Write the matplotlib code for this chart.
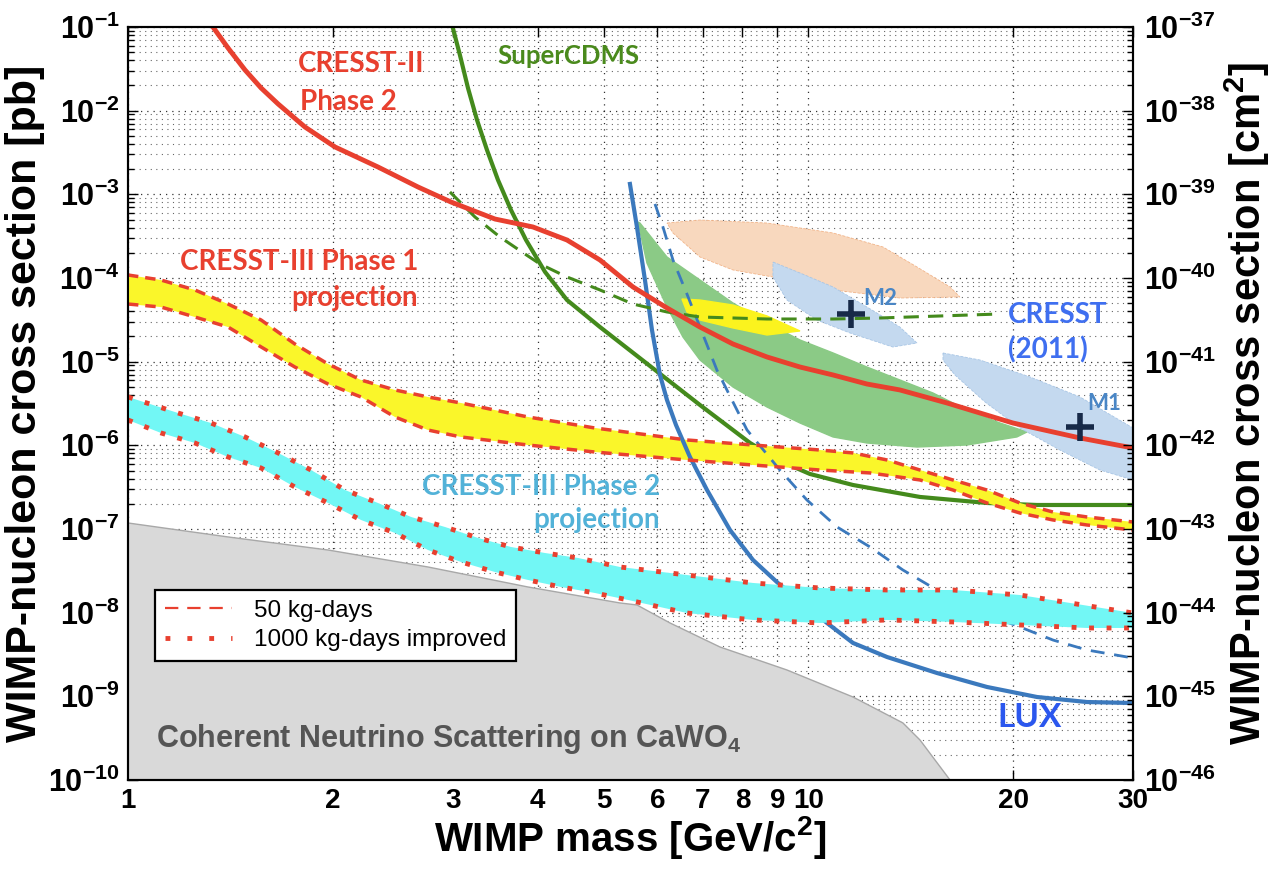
import numpy as np
import matplotlib
matplotlib.use("Agg")
import matplotlib.pyplot as plt
from matplotlib.lines import Line2D
from matplotlib.ticker import FixedLocator, LogLocator, FuncFormatter, NullLocator, NullFormatter

plt.rcParams['font.family'] = ['Liberation Sans', 'DejaVu Sans']
plt.rcParams['mathtext.fontset'] = 'custom'
plt.rcParams['mathtext.rm'] = 'Liberation Sans'
plt.rcParams['mathtext.bf'] = 'Liberation Sans:bold'
plt.rcParams['mathtext.it'] = 'Liberation Sans:italic'
plt.rcParams['mathtext.sf'] = 'Liberation Sans'

# ---------------- data (mass in GeV/c^2, log10 of cross section in pb) -------------
cresst2_m = [1.333, 1.403, 1.486, 1.569, 1.662, 1.736, 1.820, 2.015, 2.330, 2.668, 2.984,
             3.462, 3.937, 4.418, 4.940, 5.523, 6.197, 6.929, 7.748, 8.693, 9.720, 10.87,
             12.19, 13.63, 15.99, 19.98, 25.07, 30.0]
cresst2_ls = [-1.0, -1.251, -1.514, -1.729, -1.920, -2.052, -2.195, -2.434, -2.673, -2.912,
              -3.092, -3.295, -3.390, -3.546, -3.785, -4.107, -4.358, -4.586, -4.789, -4.944,
              -5.064, -5.159, -5.267, -5.338, -5.494, -5.733, -5.912, -6.032]

scdms_m = [3.00, 3.075, 3.160, 3.258, 3.370, 3.498, 3.655, 3.846, 4.102, 4.418, 4.940, 5.851,
           6.929, 8.21, 9.085, 10.05, 11.63, 14.59, 18.30, 21.68, 30.0]
scdms_ls = [-1.0, -1.335, -1.729, -2.111, -2.470, -2.829, -3.187, -3.546, -3.928, -4.263,
            -4.586, -5.052, -5.518, -5.972, -6.187, -6.342, -6.474, -6.617, -6.689, -6.713, -6.713]

scdms_dash_m = [2.973, 3.236, 3.521, 3.832, 4.033, 4.418, 4.940, 5.523, 6.197, 6.929, 8.693,
                10.87, 12.74, 19.12]
scdms_dash_ls = [-2.972, -3.271, -3.510, -3.713, -3.833, -3.988, -4.143, -4.311, -4.406,
                 -4.466, -4.490, -4.490, -4.478, -4.430]

lux_m = [5.467, 5.598, 5.752, 5.890, 6.052, 6.197, 6.389, 6.698, 7.096, 7.67, 8.29, 9.02,
         10.65, 11.63, 13.05, 15.45, 18.30, 21.68, 25.67, 30.0]
lux_ls = [-2.876, -3.390, -4.024, -4.621, -5.159, -5.458, -5.757, -6.139, -6.534, -7.012,
          -7.370, -7.645, -8.123, -8.362, -8.530, -8.721, -8.888, -9.008, -9.068, -9.080]

lux_dash_m = [5.950, 6.113, 6.324, 6.630, 6.929, 7.337, 8.124, 9.08, 9.95, 11.02, 12.32,
              13.77, 15.45, 17.87, 20.46, 22.88, 25.67, 30.0]
lux_dash_ls = [-3.115, -3.390, -3.785, -4.191, -4.586, -5.099, -5.816, -6.295, -6.653, -6.976,
               -7.215, -7.490, -7.729, -7.992, -8.171, -8.327, -8.446, -8.542]

c3p1_up_m = [1.0, 1.118, 1.254, 1.403, 1.569, 1.759, 1.968, 2.200, 2.468, 2.760, 3.086, 3.871,
             4.858, 6.630, 8.29, 10.40, 11.63, 13.05, 14.59, 16.31, 18.30, 20.46, 22.88, 25.67, 30.0]
c3p1_up_ls = [-3.964, -4.024, -4.143, -4.311, -4.502, -4.789, -5.028, -5.219, -5.338, -5.422,
              -5.494, -5.661, -5.793, -5.936, -5.996, -6.056, -6.091, -6.175, -6.295, -6.414,
              -6.534, -6.689, -6.797, -6.856, -6.916]
c3p1_lo_m = [1.0, 1.118, 1.254, 1.403, 1.569, 1.759, 1.968, 2.200, 2.468, 2.760, 3.086, 3.871,
             4.858, 6.630, 8.29, 10.40, 12.32, 14.59, 16.31, 18.30, 20.46, 22.88, 25.67, 30.0]
c3p1_lo_ls = [-4.311, -4.347, -4.466, -4.586, -4.824, -5.064, -5.267, -5.422, -5.661, -5.817,
              -5.900, -5.996, -6.080, -6.175, -6.235, -6.295, -6.330, -6.414, -6.534, -6.689,
              -6.809, -6.892, -6.952, -7.012]

c3p2_up_m = [1.0, 1.184, 1.324, 1.486, 1.662, 1.858, 2.084, 2.330, 2.606, 2.924, 3.269, 3.655,
             4.102, 4.585, 5.285, 6.630, 8.29, 10.40, 13.05, 16.31, 20.46, 24.24, 30.0]
c3p2_up_ls = [-5.422, -5.613, -5.733, -5.900, -6.091, -6.295, -6.534, -6.689, -6.856, -6.976,
              -7.107, -7.215, -7.287, -7.346, -7.454, -7.550, -7.645, -7.705, -7.729, -7.729,
              -7.789, -7.884, -8.004]
c3p2_lo_m = [1.0, 1.118, 1.254, 1.403, 1.569, 1.759, 1.968, 2.200, 2.468, 2.760, 3.086, 3.462,
             3.871, 4.329, 4.858, 5.431, 6.630, 8.29, 10.40, 13.05, 16.31, 20.46, 25.67, 30.0]
c3p2_lo_ls = [-5.697, -5.852, -5.972, -6.139, -6.271, -6.498, -6.689, -6.892, -7.047, -7.251,
              -7.394, -7.514, -7.609, -7.693, -7.765, -7.848, -8.004, -8.087, -8.123, -8.087,
              -8.111, -8.147, -8.183, -8.183]

nu_m = [1.0, 1.403, 1.968, 2.760, 3.871, 5.285, 5.598, 6.260, 7.413, 9.30, 11.63, 13.77,
        14.59, 16.15]
nu_ls = [-6.928, -7.095, -7.251, -7.454, -7.693, -7.884, -7.908, -8.123, -8.410, -8.685,
         -9.008, -9.318, -9.522, -10.0]

green_m = [5.617, 5.791, 6.197, 6.541, 6.929, 7.748, 8.693, 9.720, 10.87, 12.19, 14.44, 17.11,
           20.25, 20.96, 19.12, 17.11, 15.24, 13.63, 12.19, 10.87, 9.72, 8.693, 7.748, 6.929,
           6.197, 5.655]
green_ls = [-3.331, -3.821, -4.346, -4.705, -4.980, -5.303, -5.542, -5.733, -5.900, -5.972,
            -6.020, -5.996, -5.900, -5.840, -5.733, -5.578, -5.374, -5.219, -5.064, -4.896,
            -4.741, -4.538, -4.299, -4.024, -3.749, -3.343]

yel_m = [6.519, 6.929, 7.748, 8.693, 9.720, 8.693, 7.748, 6.929, 6.630]
yel_ls = [-4.251, -4.263, -4.323, -4.454, -4.633, -4.681, -4.597, -4.502, -4.406]

orange_m = [6.197, 6.929, 8.693, 10.87, 12.87, 14.44, 16.15, 16.70, 13.63, 10.87, 8.87, 7.748,
            6.929, 6.324]
orange_ls = [-3.343, -3.307, -3.343, -3.462, -3.629, -3.868, -4.107, -4.227, -4.239, -4.143,
             -3.988, -3.904, -3.749, -3.462]

m2_m = [8.87, 9.72, 10.87, 12.19, 13.63, 14.44, 13.31, 11.51, 10.29, 9.30, 8.87]
m2_ls = [-3.809, -3.940, -4.107, -4.346, -4.586, -4.777, -4.825, -4.657, -4.502, -4.263, -3.988]

m1_m = [15.77, 17.87, 21.17, 25.07, 30.0, 30.0, 26.83, 23.43, 20.46, 18.18, 16.42, 15.77]
m1_ls = [-4.896, -4.980, -5.183, -5.422, -5.793, -6.414, -6.295, -6.056, -5.793, -5.482,
         -5.159, -4.980]

best_fit_m = [11.55, 25.07]
best_fit_ls = [-4.430, -5.781]

x_ticks = [1, 2, 3, 4, 5, 6, 7, 8, 9, 10, 20, 30]
x_ticklabels = ['1', '2', '3', '4', '5', '6', '7', '8', '9', '10', '20', '30']


def S(ls):
    return 10.0 ** np.asarray(ls)


def band(up_m, up_ls, lo_m, lo_ls):
    xs = list(up_m) + list(lo_m)[::-1]
    ys = list(S(up_ls)) + list(S(lo_ls))[::-1]
    return xs, ys


# colours
RED = '#e8402f'
YELLOW = '#faf62a'
CYAN = '#72f7f5'
DGREEN = '#448a1c'
BLUE = '#3b79bd'

fig = plt.figure(figsize=(12.76, 8.69), dpi=100)
ax = fig.add_axes([128 / 1276, 89 / 869, 1005 / 1276, 753 / 869])
ax.set_xscale('log')
ax.set_yscale('log')
ax.set_xlim(1, 30)
ax.set_ylim(1e-10, 1e-1)

# grid
ax.set_axisbelow(True)
ax.xaxis.set_major_locator(FixedLocator(x_ticks))
ax.xaxis.set_minor_locator(NullLocator())
ax.yaxis.set_major_locator(LogLocator(base=10, numticks=20))
ax.yaxis.set_minor_locator(LogLocator(base=10, subs=np.arange(2, 10), numticks=20))
ax.yaxis.set_minor_formatter(NullFormatter())
ax.yaxis.set_major_formatter(FuncFormatter(lambda v, p: r'$\mathbf{10^{%d}}$' % round(np.log10(v))))
ax.grid(which='major', color='k', ls=(0, (1, 4)), lw=0.9, alpha=0.8)
ax.grid(which='minor', axis='y', color='k', ls=(0, (1, 4)), lw=0.8, alpha=0.6)

ax.set_xticks(x_ticks)
ax.set_xticklabels(x_ticklabels, fontsize=20, fontweight='bold')

ax.tick_params(which='both', direction='in', top=True, right=False, width=1)
ax.tick_params(which='major', length=7)
ax.tick_params(which='minor', length=4)
ax.tick_params(axis='y', labelsize=22, pad=6)
ax.tick_params(axis='x', pad=6)

# neutrino floor
ax.fill(list(nu_m) + [1.0], list(S(nu_ls)) + [1e-10], color='#d9d9d9', ec='#a8a8a8', lw=1, zorder=1)

# CRESST 2011 regions
ax.fill(orange_m, S(orange_ls), color='#f8d8be', ec='#f2b58a', lw=0.6, ls='--', zorder=2)
ax.fill(green_m, S(green_ls), color='#8bca86', zorder=2)
ax.fill(yel_m, S(yel_ls), color='#fbf31e', zorder=2.1)
ax.fill(m2_m, S(m2_ls), color='#c4d9ef', ec='#a8c6e6', lw=0.6, ls='--', zorder=2)
ax.fill(m1_m, S(m1_ls), color='#c4d9ef', ec='#a8c6e6', lw=0.6, ls='--', zorder=2)

# SuperCDMS
ax.plot(scdms_m, S(scdms_ls), color=DGREEN, lw=3, zorder=3, solid_joinstyle='round')
# projections
bx, by = band(c3p1_up_m, c3p1_up_ls, c3p1_lo_m, c3p1_lo_ls)
ax.fill(bx, by, color=YELLOW, zorder=3.5, lw=0)
ax.plot(c3p1_up_m, S(c3p1_up_ls), color=RED, lw=2.5, ls=(0, (3, 2)), zorder=5)
ax.plot(c3p1_lo_m, S(c3p1_lo_ls), color=RED, lw=2.5, ls=(0, (3, 2)), zorder=5)

ax.plot(lux_m, S(lux_ls), color=BLUE, lw=3, zorder=3.6, solid_joinstyle='round')
ax.plot(lux_dash_m, S(lux_dash_ls), color=BLUE, lw=2, ls=(0, (5, 3.5)), zorder=3.6)

bx, by = band(c3p2_up_m, c3p2_up_ls, c3p2_lo_m, c3p2_lo_ls)
ax.fill(bx, by, color=CYAN, zorder=4, lw=0)
ax.plot(c3p2_up_m, S(c3p2_up_ls), color=RED, lw=3.5, ls=(0, (1, 2.6)), zorder=5)
ax.plot(c3p2_lo_m, S(c3p2_lo_ls), color=RED, lw=3.5, ls=(0, (1, 2.6)), zorder=5)

ax.plot(scdms_dash_m, S(scdms_dash_ls), color=DGREEN, lw=2.2, ls=(0, (5, 3)), zorder=4.5)
ax.plot(cresst2_m, S(cresst2_ls), color=RED, lw=3.5, zorder=5, solid_joinstyle='round')

ax.plot(best_fit_m, S(best_fit_ls), ls='none', marker='+', ms=20, mew=4, color='#172a48', zorder=6)

# labels on plot
LBL = ['Lato', 'DejaVu Sans']
ax.text(1.778, 10 ** -1.538, 'CRESST-II', color=RED, fontsize=20, fontweight='bold', family=LBL,
        ha='left', va='baseline', zorder=7)
ax.text(1.789, 10 ** -1.992, 'Phase 2', color=RED, fontsize=20, fontweight='bold', family=LBL,
        ha='left', va='baseline', zorder=7)
ax.text(3.486, 10 ** -1.442, 'SuperCDMS', color='#4a8a1c', fontsize=18.5, fontweight='bold', family=LBL,
        ha='left', va='baseline', zorder=7)
ax.text(2.668, 10 ** -3.904, 'CRESST-III Phase 1', color=RED, fontsize=20, fontweight='bold', family=LBL,
        ha='right', va='baseline', zorder=7)
ax.text(2.668, 10 ** -4.335, 'projection', color=RED, fontsize=20, fontweight='bold', family=LBL,
        ha='right', va='baseline', zorder=7)
ax.text(6.05, 10 ** -6.593, 'CRESST-III Phase 2', color='#52b2d8', fontsize=20, fontweight='bold', family=LBL,
        ha='right', va='baseline', zorder=7)
ax.text(6.05, 10 ** -6.988, 'projection', color='#52b2d8', fontsize=20, fontweight='bold', family=LBL,
        ha='right', va='baseline', zorder=7)
ax.text(19.65, 10 ** -4.538, 'CRESST', color='#3f6ff0', fontsize=20, fontweight='bold', family=LBL,
        ha='left', va='baseline', zorder=7)
ax.text(19.65, 10 ** -4.956, '(2011)', color='#3f6ff0', fontsize=20, fontweight='bold', family=LBL,
        ha='left', va='baseline', zorder=7)
ax.text(12.03, 10 ** -4.323, 'M2', color='#4a86c5', fontsize=16, fontweight='bold', family=LBL,
        ha='left', va='baseline', zorder=7)
ax.text(25.67, 10 ** -5.577, 'M1', color='#4a86c5', fontsize=16, fontweight='bold', family=LBL,
        ha='left', va='baseline', zorder=7)
ax.text(18.93, 10 ** -9.366, 'LUX', color='#2b57ee', fontsize=24, fontweight='bold', family=LBL,
        ha='left', va='baseline', zorder=7)
ax.text(1.099, 10 ** -9.605, r'Coherent Neutrino Scattering on CaWO$_{\mathbf{4}}$', color='#555555',
        fontsize=22, fontweight='bold', ha='left', va='baseline', zorder=7)

# legend
handles = [Line2D([], [], color=RED, lw=1.6, ls=(0, (6, 4))),
           Line2D([], [], color=RED, lw=3.5, ls=(0, (1, 3.5)))]
leg = ax.legend(handles, ['50 kg-days', '1000 kg-days improved'], loc='upper left',
                bbox_to_anchor=(0.027, 0.252), borderaxespad=0, fontsize=17.5, fancybox=False,
                framealpha=1, edgecolor='black', handlelength=2.75, labelspacing=0.3,
                borderpad=0.4, handletextpad=0.9)
leg.get_frame().set_linewidth(1.6)
leg.set_zorder(8)

ax.set_xlabel(r'WIMP mass [GeV/c$^{\mathbf{2}}$]', fontsize=29, fontweight='bold', labelpad=0)
ax.set_ylabel('WIMP-nucleon cross section [pb]', fontsize=31, fontweight='bold', labelpad=2)

for sp in ax.spines.values():
    sp.set_linewidth(1.5)

# right axis in cm^2
ax2 = ax.twinx()
ax2.set_yscale('log')
ax2.set_ylim(1e-46, 1e-37)
ax2.yaxis.set_major_locator(LogLocator(base=10, numticks=20))
ax2.yaxis.set_minor_locator(LogLocator(base=10, subs=np.arange(2, 10), numticks=20))
ax2.yaxis.set_minor_formatter(NullFormatter())
ax2.yaxis.set_major_formatter(FuncFormatter(lambda v, p: r'$\mathbf{10^{%d}}$' % round(np.log10(v))))
ax2.tick_params(which='both', direction='in', width=1, labelsize=22, pad=8)
ax2.tick_params(which='major', length=7)
ax2.tick_params(which='minor', length=4)
ax2.set_ylabel(r'WIMP-nucleon cross section [cm$^{\mathbf{2}}$]', fontsize=30, fontweight='bold',
               rotation=90, labelpad=4)
for sp in ax2.spines.values():
    sp.set_linewidth(1.5)

fig.savefig('out.png', dpi=100)
